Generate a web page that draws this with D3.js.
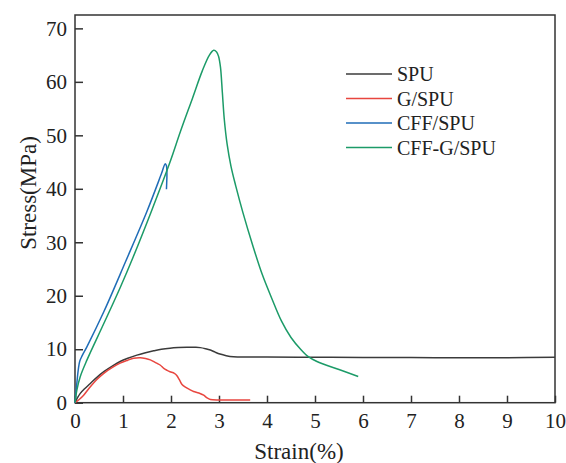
<!DOCTYPE html>
<html>
<head>
<meta charset="utf-8">
<script src="https://cdn.jsdelivr.net/npm/d3@7"></script>
<style>
  body { margin: 0; background: #fff; }
  .tick line { stroke: #333; stroke-width: 1.5; }
</style>
</head>
<body>
<svg width="566" height="463"></svg>
<script>
// strain (%) / stress (MPa)
const spu = [
    [0, 0], [0.05, 0.9], [0.11, 1.75], [0.2, 2.6], [0.32, 3.6], [0.45, 4.7], [0.6, 5.8],
    [0.8, 7.0], [0.94, 7.7], [1.1, 8.3], [1.29, 8.9], [1.45, 9.3], [1.64, 9.7], [1.8, 10.0],
    [1.98, 10.2], [2.15, 10.3], [2.33, 10.35], [2.5, 10.35], [2.61, 10.3], [2.72, 10.1],
    [2.82, 9.85], [2.92, 9.45], [3.02, 9.1], [3.15, 8.8], [3.3, 8.6], [3.6, 8.55], [4, 8.55],
    [5, 8.5], [6, 8.45], [7, 8.45], [8, 8.4], [9, 8.4], [10, 8.5]
];
const gspu = [
    [0, 0], [0.075, 0.5], [0.18, 1.4], [0.32, 3.0], [0.45, 4.3], [0.6, 5.5], [0.78, 6.6],
    [0.94, 7.4], [1.1, 7.95], [1.22, 8.3], [1.36, 8.4], [1.47, 8.25], [1.57, 8.0], [1.66, 7.6],
    [1.72, 7.3], [1.78, 7.0], [1.85, 6.4], [1.92, 6.05], [1.98, 5.8], [2.07, 5.5], [2.12, 5.1],
    [2.18, 4.2], [2.23, 3.4], [2.3, 2.9], [2.4, 2.4], [2.47, 2.1], [2.58, 1.8], [2.68, 1.4],
    [2.75, 0.9], [2.82, 0.6], [3.0, 0.5], [3.3, 0.5], [3.65, 0.5]
];
const cffspu = [
    [0, 0], [0.02, 2.0], [0.04, 3.8], [0.07, 6.3], [0.1, 7.8], [0.15, 8.8], [0.25, 10.5],
    [0.6, 17.0], [1.05, 26.3], [1.5, 35.8], [1.8, 42.8], [1.88, 44.7], [1.905, 44.3],
    [1.915, 42.5], [1.91, 41.0], [1.905, 39.9]
];
const cffgspu = [
    [0, 0], [0.04, 2.4], [0.11, 4.9], [0.25, 8.0], [0.6, 14.8], [0.94, 21.5], [1.21, 27.2],
    [1.6, 36.0], [1.98, 45.0], [2.2, 50.8], [2.45, 57.0], [2.65, 62.0], [2.8, 65.0],
    [2.89, 65.9], [2.95, 65.6], [2.99, 64.8], [3.03, 62.8], [3.07, 58.0], [3.11, 53.0],
    [3.17, 48.3], [3.25, 44.2], [3.35, 40.5], [3.5, 35.5], [3.7, 29.5], [3.9, 24.0],
    [4.1, 19.5], [4.3, 15.3], [4.5, 12.2], [4.7, 10.0], [4.86, 8.6], [5.04, 7.7],
    [5.5, 6.2], [5.9, 4.9]
];

const seriesNames = ['SPU', 'G/SPU', 'CFF/SPU', 'CFF-G/SPU'];
const seriesData = [spu, gspu, cffspu, cffgspu];
const seriesColors = ['#3b3b3b', '#e8463f', '#1f6db7', '#1c9b68'];

const xTicks = [0, 1, 2, 3, 4, 5, 6, 7, 8, 9, 10];
const yTicks = [0, 10, 20, 30, 40, 50, 60, 70];

const serif = '"Liberation Serif", "DejaVu Serif", serif';

const svg = d3.select('svg')
    .attr('font-family', serif);

const plotLeft = 75, plotRight = 555, plotTop = 15, plotBottom = 402.7;

const xScale = d3.scaleLinear()
    .domain([0, 10])
    .range([plotLeft, plotRight]);

const yScale = d3.scaleLinear()
    .domain([0, 72.5])
    .range([plotBottom, plotTop]);

// axes, ticks pointing inward
const xAxis = svg.append('g')
    .attr('transform', `translate(0, ${plotBottom})`)
    .call(d3.axisBottom(xScale)
        .tickValues(xTicks)
        .tickSize(-7)
        .tickPadding(10)
        .tickFormat(d3.format('d')));

const yAxis = svg.append('g')
    .attr('transform', `translate(${plotLeft}, 0)`)
    .call(d3.axisLeft(yScale)
        .tickValues(yTicks)
        .tickSize(-8)
        .tickPadding(8)
        .tickFormat(d3.format('d')));

[xAxis, yAxis].forEach((ax) => {
    ax.select('.domain').remove();
    ax.attr('font-family', serif)
        .attr('font-size', 21);
    ax.selectAll('text').attr('fill', '#222');
});

svg.append('rect')
    .attr('x', plotLeft)
    .attr('y', plotTop)
    .attr('width', plotRight - plotLeft)
    .attr('height', plotBottom - plotTop)
    .attr('fill', 'none')
    .attr('stroke', '#333')
    .attr('stroke-width', 1.5);

const line = d3.line()
    .x((d) => xScale(d[0]))
    .y((d) => yScale(d[1]))
    .curve(d3.curveCatmullRom.alpha(0.5));

svg.append('g')
    .selectAll('path')
    .data(seriesData)
    .enter()
    .append('path')
    .attr('d', line)
    .attr('fill', 'none')
    .attr('stroke', (d, i) => seriesColors[i])
    .attr('stroke-width', 1.5);

// legend
const legend = svg.append('g')
    .selectAll('g')
    .data(seriesNames)
    .enter()
    .append('g')
    .attr('transform', (d, i) => `translate(346, ${74 + i * 24.5})`);

legend.append('line')
    .attr('x1', 0)
    .attr('x2', 46)
    .attr('stroke', (d, i) => seriesColors[i])
    .attr('stroke-width', 1.5);

legend.append('text')
    .attr('x', 51)
    .attr('y', 7)
    .attr('font-size', 20)
    .attr('fill', '#222')
    .text((d) => d);

svg.append('text')
    .attr('x', -193)
    .attr('y', 36)
    .attr('transform', 'rotate(-90)')
    .attr('text-anchor', 'middle')
    .attr('font-size', 23)
    .attr('fill', '#222')
    .text('Stress(MPa)');

svg.append('text')
    .attr('x', 299)
    .attr('y', 459)
    .attr('text-anchor', 'middle')
    .attr('font-size', 23)
    .attr('fill', '#222')
    .text('Strain(%)');
</script>
</body>
</html>
